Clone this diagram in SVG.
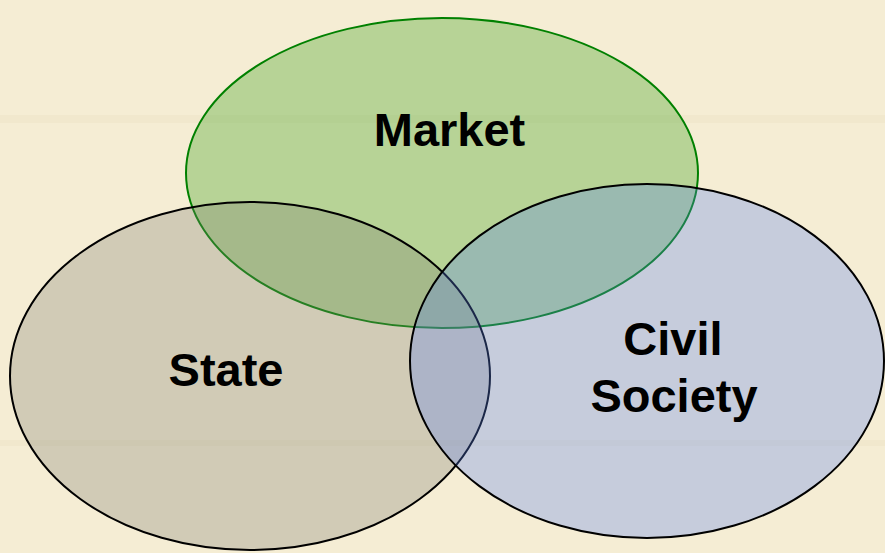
<svg xmlns="http://www.w3.org/2000/svg" width="885" height="553" viewBox="0 0 885 553">
<style>
.lbl{font-family:"Liberation Sans",Arial,sans-serif;font-weight:bold;font-size:47px;fill:#000;text-anchor:middle}
</style>
<rect width="885" height="553" fill="#F5EDD4"/>
<g opacity="0.5">
<rect x="0" y="115" width="885" height="8" fill="#EEE4C6"/>
<rect x="0" y="440" width="885" height="6" fill="#EEE4C6"/>
</g>
<g id="market">
<ellipse cx="442" cy="173" rx="256" ry="155" fill="#5AAD3A" fill-opacity="0.4" stroke="#008000" stroke-width="2"/>
<text class="lbl" x="449.5" y="146">Market</text>
</g>
<g id="state">
<ellipse cx="250" cy="376" rx="240" ry="174" fill="#7E7E72" fill-opacity="0.3" stroke="#000" stroke-width="2"/>
<text class="lbl" x="226" y="386">State</text>
</g>
<g id="civil-society">
<ellipse cx="647" cy="361" rx="237" ry="177" fill="#5A80F0" fill-opacity="0.3" stroke="#000" stroke-width="2"/>
<text class="lbl" x="673" y="355">Civil</text>
<text class="lbl" x="674" y="412">Society</text>
</g>
<g id="connectors"/>
</svg>
